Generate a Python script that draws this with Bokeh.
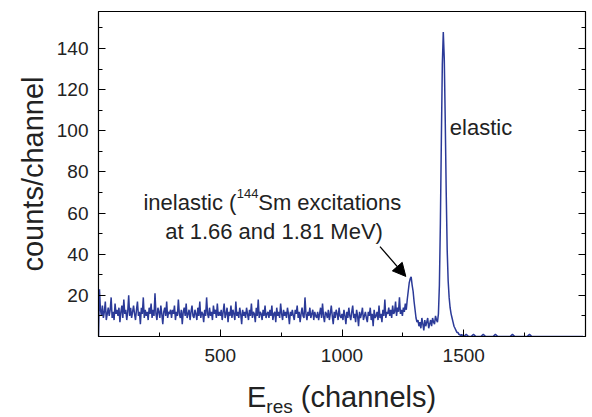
from bokeh.plotting import figure
from bokeh.layouts import column
from bokeh.models import (FixedTicker, LinearAxis, Range1d, Label, Arrow, NormalHead,
                          CustomJSTickFormatter, Div)
from bokeh.embed import file_html
from bokeh.resources import INLINE

# ---- data ----
# counts per channel, channels 0..1496 in steps of 4
counts_low = [
    0, 23, 13, 10, 15, 9, 12, 17, 8, 11, 14, 10, 13, 19, 9, 12, 8, 16, 11, 13, 10, 14, 7, 12, 15,
    9, 18, 11, 13, 8, 12, 20, 10, 14, 9, 12, 15, 11, 8, 13, 17, 10, 12, 6, 14, 11, 19, 9, 13, 10,
    12, 8, 14, 11, 16, 9, 13, 10, 21, 11, 8, 14, 12, 9, 15, 11, 6, 12, 14, 10, 17, 9, 12, 11, 13,
    9, 13, 11, 15, 8, 12, 10, 18, 11, 9, 13, 6, 12, 14, 10, 16, 9, 11, 13, 8, 12, 15, 10, 9, 13,
    11, 8, 14, 10, 17, 9, 12, 11, 7, 13, 10, 19, 11, 9, 14, 10, 12, 8, 15, 11, 13, 9, 16, 10, 12,
    10, 13, 8, 12, 16, 9, 11, 14, 7, 12, 10, 15, 9, 13, 11, 8, 17, 10, 12, 9, 14, 11, 6, 13, 10,
    12, 9, 14, 11, 8, 13, 10, 16, 9, 12, 11, 7, 14, 10, 18, 9, 12, 11, 8, 13, 10, 15, 9, 11, 12,
    9, 13, 10, 15, 8, 11, 12, 7, 14, 10, 12, 9, 16, 11, 8, 13, 10, 12, 9, 14, 11, 6, 12, 10, 13,
    10, 8, 13, 11, 15, 9, 12, 7, 11, 14, 10, 9, 19, 11, 8, 12, 10, 14, 9, 11, 13, 8, 12, 10, 9,
    12, 8, 11, 14, 9, 16, 10, 7, 12, 11, 9, 13, 8, 11, 15, 10, 6, 12, 9, 13, 11, 8, 14, 10, 9,
    11, 8, 13, 10, 6, 12, 9, 14, 10, 8, 12, 15, 9, 11, 7, 13, 10, 5, 12, 9, 11, 14, 8, 10, 12,
    9, 7, 12, 10, 14, 8, 11, 5, 13, 9, 10, 12, 8, 15, 9, 11, 7, 13, 10, 18, 9, 12, 11, 14, 10,
    13, 9, 15, 11, 12, 17, 10, 14, 12, 19, 11, 13, 10, 14, 12, 16, 13, 18, 22, 26, 28, 29, 25, 22, 17,
    13, 9, 7, 8, 5, 7, 4, 9, 6, 3, 8, 5, 7, 9, 4, 6, 8, 5, 9, 7, 6, 10, 8, 7, 11,
    25, 55, 95, 132, 148, 135, 105, 70, 42, 27, 19, 14, 11, 9, 7, 5, 4, 3, 2, 2, 1, 1, 0, 1, 0,
]
channels_low = list(range(0, 1500, 4))

# channels 1500..1990 in steps of 10
counts_high = [
    0, 1, 0, 0, 1, 0, 0, 0, 1, 0,
    0, 0, 0, 1, 0, 0, 0, 0, 0, 0,
    1, 0, 0, 0, 0, 0, 0, 1, 0, 0,
    0, 0, 0, 0, 0, 0, 0, 0, 0, 0,
    0, 0, 0, 0, 0, 0, 0, 0, 0, 0,
]
channels_high = list(range(1500, 2000, 10))

channels = channels_low + channels_high
counts = counts_low + counts_high

x_major = [500, 1000, 1500]
x_minor = [250, 750, 1250, 1750]
y_major = [20, 40, 60, 80, 100, 120, 140]
y_minor = [10, 30, 50, 70, 90, 110, 130, 150]

FONT = "Liberation Sans"
TEXT_COLOR = "#222222"
LINE_COLOR = "#2B3A98"
W = 588

p = figure(width=W, height=380, output_backend="svg", toolbar_location=None,
           x_range=Range1d(0, 2000), y_range=Range1d(0, 158),
           min_border_left=98, min_border_right=3, min_border_top=11, min_border_bottom=44)

p.line(channels, counts, line_color=LINE_COLOR, line_width=1.5)

p.grid.visible = False
p.outline_line_color = "black"
p.outline_line_width = 1.2
p.background_fill_color = "white"
p.border_fill_color = "white"

# x axis
xa = p.xaxis[0]
xa.ticker = FixedTicker(ticks=x_major, minor_ticks=x_minor)
xa.major_tick_in = 7
xa.major_tick_out = 0
xa.minor_tick_in = 4
xa.minor_tick_out = 0
xa.major_label_text_font = FONT
xa.major_label_text_font_size = "19px"
xa.major_label_text_color = TEXT_COLOR
xa.major_label_standoff = 12
xa.axis_line_color = "black"
xa.axis_label = None

# y axis
ya = p.yaxis[0]
ya.ticker = FixedTicker(ticks=y_major, minor_ticks=y_minor)
ya.major_tick_in = 7
ya.major_tick_out = 0
ya.minor_tick_in = 4
ya.minor_tick_out = 0
ya.major_label_text_font = FONT
ya.major_label_text_font_size = "19px"
ya.major_label_text_color = TEXT_COLOR
ya.major_label_standoff = 10
ya.axis_label = "counts/channel"
ya.axis_label_text_font = FONT
ya.axis_label_text_font_size = "29px"
ya.axis_label_text_font_style = "normal"
ya.axis_label_text_color = TEXT_COLOR
ya.axis_label_standoff = 5

# mirrored right axis (ticks only)
ra = LinearAxis(ticker=FixedTicker(ticks=y_major, minor_ticks=y_minor),
                formatter=CustomJSTickFormatter(code="return ''"))
ra.major_tick_in = 7
ra.major_tick_out = 0
ra.minor_tick_in = 4
ra.minor_tick_out = 0
ra.major_label_standoff = 0
ra.major_label_text_font_size = "1px"
p.add_layout(ra, "right")

# annotations
p.add_layout(Label(x=566, y=65.2, text="inelastic (", text_font=FONT, text_font_size="22px",
                   text_color=TEXT_COLOR, text_baseline="alphabetic", text_align="right"))
p.add_layout(Label(x=568, y=69.3, text="144", text_font=FONT, text_font_size="13px",
                   text_color=TEXT_COLOR, text_baseline="alphabetic", text_align="left"))
p.add_layout(Label(x=656, y=65.2, text="Sm excitations", text_font=FONT, text_font_size="22px",
                   text_color=TEXT_COLOR, text_baseline="alphabetic", text_align="left"))
p.add_layout(Label(x=721, y=51.0, text="at 1.66 and 1.81 MeV)", text_font=FONT,
                   text_font_size="22px", text_color=TEXT_COLOR, text_baseline="alphabetic",
                   text_align="center"))
p.add_layout(Label(x=1443, y=101.6, text="elastic", text_font=FONT, text_font_size="22px",
                   text_color=TEXT_COLOR, text_baseline="alphabetic", text_align="left"))

p.add_layout(Arrow(end=NormalHead(size=13, fill_color="black", line_color="black"),
                   x_start=1156, y_start=43.7, x_end=1262, y_end=29.2,
                   line_color="black", line_width=1.3))

# x-axis title with subscript, as a text strip below the plot
xtitle = Div(
    text='E<span style="font-size:19px;position:relative;top:6px;">res</span> (channels)',
    width=W, height=37,
    styles={"font-family": FONT, "font-size": "29px", "color": TEXT_COLOR,
            "line-height": "29px", "padding-left": "247px", "padding-top": "3px",
            "margin": "0", "white-space": "nowrap"})

layout = column(p, xtitle, spacing=0)
open("out.html", "w").write(file_html(layout, INLINE))
